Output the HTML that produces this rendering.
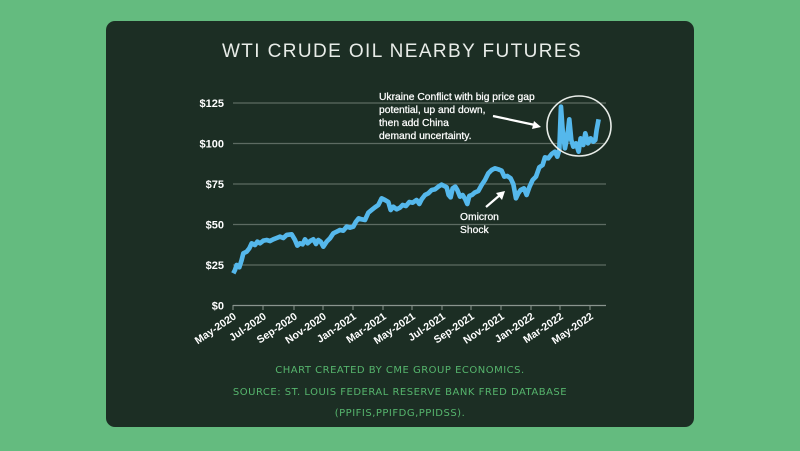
<!DOCTYPE html>
<html><head><meta charset="utf-8"><style>
html,body{margin:0;padding:0;width:800px;height:451px;overflow:hidden;background:#64bb7f;}
svg{display:block}
</style></head><body>
<svg width="800" height="451" viewBox="0 0 800 451" xmlns="http://www.w3.org/2000/svg">
<rect x="0" y="0" width="800" height="451" fill="#64bb7f"/>
<rect x="106" y="21" width="588" height="406" rx="9" fill="#1c2e24"/>
<text x="402" y="57" text-anchor="middle" font-family="Liberation Sans, sans-serif" font-size="19" fill="#e8ece8" letter-spacing="1.4">WTI CRUDE OIL NEARBY FUTURES</text>
<g stroke="#5d6b62" stroke-width="1.3">
<line x1="233" y1="103" x2="606" y2="103"/>
<line x1="233" y1="143.5" x2="606" y2="143.5"/>
<line x1="233" y1="184" x2="606" y2="184"/>
<line x1="233" y1="224.5" x2="606" y2="224.5"/>
<line x1="233" y1="265" x2="606" y2="265"/>
<line x1="233" y1="305.5" x2="606" y2="305.5" stroke="#8a958e"/>
</g>
<g stroke="#8a958e" stroke-width="1">
<line x1="233" y1="305" x2="233" y2="310"/><line x1="263" y1="305" x2="263" y2="310"/><line x1="294" y1="305" x2="294" y2="310"/><line x1="323" y1="305" x2="323" y2="310"/><line x1="353" y1="305" x2="353" y2="310"/><line x1="383" y1="305" x2="383" y2="310"/><line x1="412" y1="305" x2="412" y2="310"/><line x1="442" y1="305" x2="442" y2="310"/><line x1="471" y1="305" x2="471" y2="310"/><line x1="501" y1="305" x2="501" y2="310"/><line x1="531" y1="305" x2="531" y2="310"/><line x1="560" y1="305" x2="560" y2="310"/><line x1="590" y1="305" x2="590" y2="310"/>
</g>
<g font-family="Liberation Sans, sans-serif" font-weight="bold" font-size="11" fill="#ffffff" text-anchor="end">
<text x="224" y="107">$125</text><text x="224" y="147.5">$100</text><text x="224" y="188">$75</text><text x="224" y="228.5">$50</text><text x="224" y="269">$25</text><text x="224" y="309.5">$0</text>
</g>
<g font-family="Liberation Sans, sans-serif" font-weight="bold" font-size="10.5" fill="#ffffff" text-anchor="end">
<text transform="translate(237,318) rotate(-34)">May-2020</text>
<text transform="translate(267,318) rotate(-34)">Jul-2020</text>
<text transform="translate(298,318) rotate(-34)">Sep-2020</text>
<text transform="translate(327,318) rotate(-34)">Nov-2020</text>
<text transform="translate(357,318) rotate(-34)">Jan-2021</text>
<text transform="translate(387,318) rotate(-34)">Mar-2021</text>
<text transform="translate(416,318) rotate(-34)">May-2021</text>
<text transform="translate(446,318) rotate(-34)">Jul-2021</text>
<text transform="translate(475,318) rotate(-34)">Sep-2021</text>
<text transform="translate(505,318) rotate(-34)">Nov-2021</text>
<text transform="translate(535,318) rotate(-34)">Jan-2022</text>
<text transform="translate(564,318) rotate(-34)">Mar-2022</text>
<text transform="translate(594,318) rotate(-34)">May-2022</text>
</g>
<g transform="translate(180,80) scale(0.3333)">
<polyline fill="none" stroke="#55b8ec" stroke-width="14" stroke-linejoin="round" points="160,580 165,570 170,555 178,562 185,540 190,520 200,515 208,505 215,490 225,495 232,485 240,490 250,482 260,480 270,483 280,478 290,474 300,470 310,474 320,465 335,463 345,480 352,497 360,490 368,493 375,478 383,490 392,482 400,478 408,492 415,480 422,485 430,500 440,485 450,475 460,460 470,455 480,450 490,452 500,440 510,443 520,440 528,425 536,415 545,418 555,420 565,398 575,390 585,382 595,375 605,355 615,360 625,366 632,390 640,380 650,388 660,383 668,375 678,378 688,366 698,368 710,360 718,372 725,358 735,345 745,340 755,330 765,328 775,320 785,314 793,318 800,322 806,345 812,352 818,325 826,320 832,330 840,350 848,345 856,358 862,372 868,348 876,345 884,338 895,333 905,315 915,300 925,280 935,270 945,265 955,268 965,272 973,290 982,288 992,295 1000,312 1008,355 1015,340 1022,330 1032,325 1040,345 1048,322 1058,300 1068,290 1078,262 1088,255 1095,232 1105,235 1115,222 1125,215 1132,230 1138,210 1143,80 1148,150 1155,205 1162,170 1168,118 1174,180 1180,200 1188,190 1196,215 1202,175 1210,195 1216,160 1224,190 1232,175 1240,185 1246,180 1250,150 1256,118"/>
</g>
<ellipse cx="579" cy="126" rx="32" ry="30" fill="none" stroke="#e8ece8" stroke-width="1.6"/>
<line x1="493" y1="116" x2="535" y2="125" stroke="#fff" stroke-width="2.2"/>
<polygon points="541,127 532,129 534,121" fill="#fff"/>
<line x1="486" y1="207" x2="500" y2="195" stroke="#fff" stroke-width="2.2"/>
<polygon points="505,191 502,200 496,193" fill="#fff"/>
<g font-family="Liberation Sans, sans-serif" font-size="10.3" fill="#ffffff" stroke="#ffffff" stroke-width="0.25">
<text x="379" y="100">Ukraine Conflict with big price gap</text>
<text x="379" y="113">potential, up and down,</text>
<text x="379" y="126">then add China</text>
<text x="379" y="139">demand uncertainty.</text>
<text x="460" y="220">Omicron</text>
<text x="460" y="233">Shock</text>
</g>
<g font-family="DejaVu Sans, sans-serif" font-size="10" fill="#56b56d" text-anchor="middle" letter-spacing="0.5">
<text x="400" y="373">CHART CREATED BY CME GROUP ECONOMICS.</text>
<text x="400" y="395">SOURCE: ST. LOUIS FEDERAL RESERVE BANK FRED DATABASE</text>
<text x="400" y="416">(PPIFIS,PPIFDG,PPIDSS).</text>
</g>
</svg>
</body></html>
